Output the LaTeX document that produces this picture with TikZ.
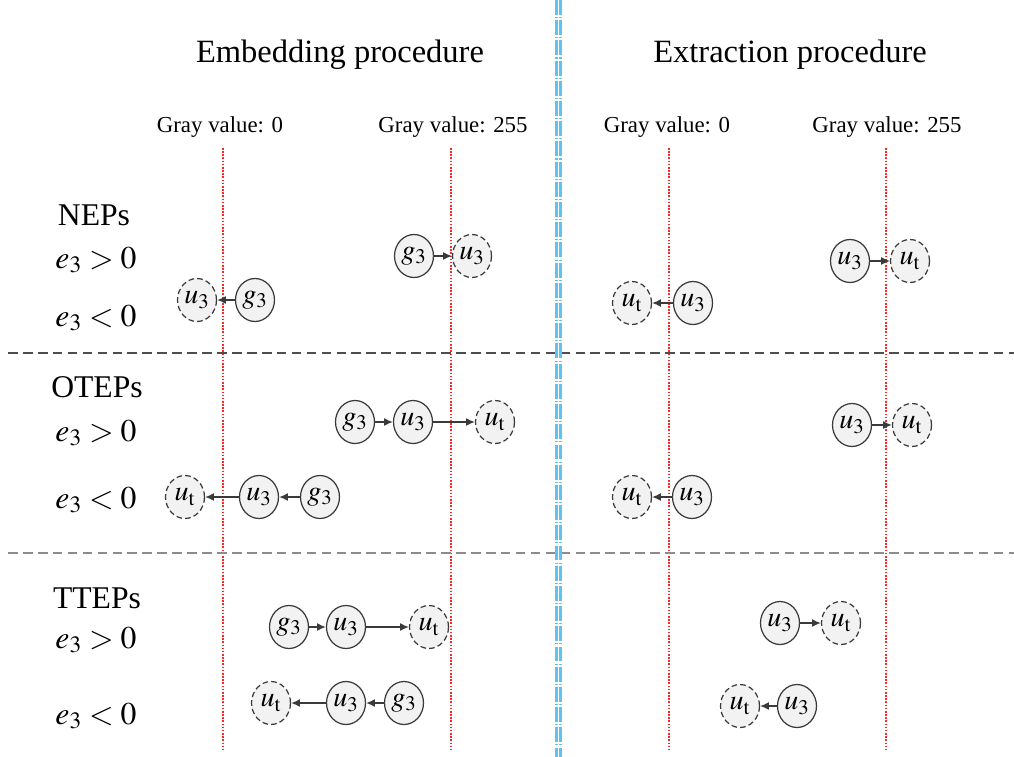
\documentclass[tikz,border=0pt]{standalone}
\usepackage{amsmath}
\usepackage{mathptmx}
\usepackage{fontspec}
\setmainfont{Liberation Serif}
\usepackage{xcolor}
\usetikzlibrary{shapes.geometric,arrows.meta}

\definecolor{nodefill}{HTML}{F2F2F2}
\definecolor{nodeline}{HTML}{3A3A3A}
\definecolor{sepblue}{HTML}{5CC4F0}

\begin{document}
\begin{tikzpicture}[x=0.02cm,y=-0.02cm,
	obj/.style={ellipse,draw=nodeline,fill=nodefill,line width=0.7pt,minimum width=0.78cm,minimum height=0.86cm,inner sep=0pt,font=\fontsize{16}{18}\selectfont},
	tgt/.style={obj,dash pattern=on 3.2pt off 1.8pt},
	link/.style={-{Latex[length=5pt,width=4.5pt]},draw=nodeline,line width=0.8pt},
	title/.style={font=\fontsize{18.5}{22}\selectfont},
	grayval/.style={font=\fontsize{13}{15}\selectfont},
	lbl/.style={font=\fontsize{18}{21}\selectfont}]
		\useasboundingbox (0,0) rectangle (1014,757);
		
		% limits of the gray values
		\foreach \x in {223,451,669,886}{
			\draw[red!85!white,line width=0.7pt,dash pattern=on 0.9pt off 0.9pt] (\x,148) -- (\x,752);
		}
		\draw[nodeline!90,line width=1.2pt,dash pattern=on 5.5pt off 3pt] (8,353) -- (1014,353);
		\draw[gray!90,line width=1.2pt,dash pattern=on 5.5pt off 3pt] (8,553) -- (1014,553);
		\foreach \x in {556.5,560.5}{
			\draw[sepblue,line width=1.2pt,dash pattern=on 8.5pt off 1.2pt on 0.6pt off 1.2pt] (\x,0) -- (\x,757);
		}
		
		\node[title] (emb) at (340,55) {Embedding procedure};
		\node[title] (ext) at (790,55) {Extraction procedure};
		\node[grayval] (gl1) at (220,127) {Gray value: 0};
		\node[grayval] (gh1) at (453,127) {Gray value: 255};
		\node[grayval] (gl2) at (667,127) {Gray value: 0};
		\node[grayval] (gh2) at (887,127) {Gray value: 255};
		
		\node[lbl] (nep) at (94,215) {NEPs};
		\node[lbl] (ot) at (97,387) {OTEPs};
		\node[lbl] (tt) at (97,598) {TTEPs};
		\foreach \y/\n in {260/a,433/b,640/c}{
			\node[lbl] (pos\n) at (96,\y) {$e_3>0$};
		}
		\foreach \y/\n in {318/a,500/b,716/c}{
			\node[lbl] (neg\n) at (96,\y) {$e_3<0$};
		}
		
		% NEPs
		\node[obj] (ag1) at (414,256) {$g_3$};
		\node[tgt] (au1) at (472,256) {$u_3$};
		\draw[link] (ag1) -- (au1);
		\node[tgt] (au2) at (197,300) {$u_3$};
		\node[obj] (ag2) at (255,300) {$g_3$};
		\draw[link] (ag2) -- (au2);
		\node[obj] (au3) at (850,261) {$u_3$};
		\node[tgt] (at3) at (910,261) {$u_{\mathrm{t}}$};
		\draw[link] (au3) -- (at3);
		\node[tgt] (at4) at (632,303) {$u_{\mathrm{t}}$};
		\node[obj] (au4) at (693,303) {$u_3$};
		\draw[link] (au4) -- (at4);
		
		% OTEPs
		\node[obj] (bg1) at (355,422) {$g_3$};
		\node[obj] (bu1) at (413,422) {$u_3$};
		\node[tgt] (bt1) at (495,422) {$u_{\mathrm{t}}$};
		\draw[link] (bg1) -- (bu1);
		\draw[link] (bu1) -- (bt1);
		\node[tgt] (bt2) at (185,497) {$u_{\mathrm{t}}$};
		\node[obj] (bu2) at (259,497) {$u_3$};
		\node[obj] (bg2) at (320,497) {$g_3$};
		\draw[link] (bg2) -- (bu2);
		\draw[link] (bu2) -- (bt2);
		\node[obj] (bu3) at (852,425) {$u_3$};
		\node[tgt] (bt3) at (912,425) {$u_{\mathrm{t}}$};
		\draw[link] (bu3) -- (bt3);
		\node[tgt] (bt4) at (632,497) {$u_{\mathrm{t}}$};
		\node[obj] (bu4) at (692,497) {$u_3$};
		\draw[link] (bu4) -- (bt4);
		
		% TTEPs
		\node[obj] (cg1) at (289,627) {$g_3$};
		\node[obj] (cu1) at (346,627) {$u_3$};
		\node[tgt] (ct1) at (429,627) {$u_{\mathrm{t}}$};
		\draw[link] (cg1) -- (cu1);
		\draw[link] (cu1) -- (ct1);
		\node[tgt] (ct2) at (271,703) {$u_{\mathrm{t}}$};
		\node[obj] (cu2) at (346,703) {$u_3$};
		\node[obj] (cg2) at (404,703) {$g_3$};
		\draw[link] (cg2) -- (cu2);
		\draw[link] (cu2) -- (ct2);
		\node[obj] (cu3) at (780,623) {$u_3$};
		\node[tgt] (ct3) at (841,623) {$u_{\mathrm{t}}$};
		\draw[link] (cu3) -- (ct3);
		\node[tgt] (ct4) at (740,706) {$u_{\mathrm{t}}$};
		\node[obj] (cu4) at (797,706) {$u_3$};
		\draw[link] (cu4) -- (ct4);
	\end{tikzpicture}
\end{document}
